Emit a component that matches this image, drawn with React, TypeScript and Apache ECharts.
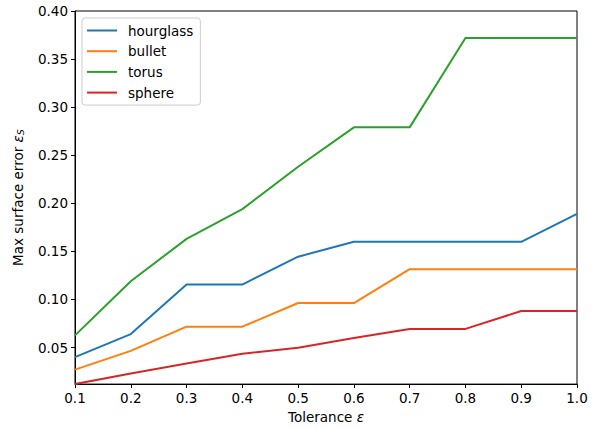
import React, { useEffect, useRef } from "react";
import * as echarts from "echarts";

const tolerance = [0.1, 0.2, 0.3, 0.4, 0.5, 0.6, 0.7, 0.8, 0.9, 1.0];
const hourglass = [0.040, 0.064, 0.1155, 0.1155, 0.1445, 0.160, 0.160, 0.160, 0.160, 0.189];
const bullet = [0.027, 0.0466, 0.0717, 0.0717, 0.0963, 0.0963, 0.1315, 0.1315, 0.1315, 0.1315];
const torus = [0.0627, 0.119, 0.163, 0.194, 0.238, 0.279, 0.279, 0.372, 0.372, 0.372];
const sphere = [0.012, 0.0231, 0.0334, 0.0435, 0.0497, 0.060, 0.0694, 0.0694, 0.088, 0.088];
const seriesNames = ["hourglass", "bullet", "torus", "sphere"];
const colors = ["#1f77b4", "#ff7f0e", "#2ca02c", "#d62728"];
const xTicks = [0.1, 0.2, 0.3, 0.4, 0.5, 0.6, 0.7, 0.8, 0.9, 1.0];
const yTicks = [0.05, 0.10, 0.15, 0.20, 0.25, 0.30, 0.35, 0.40];

const FONT = "DejaVu Sans";
const FS = 13.5;

export default function App() {
  const ref = useRef<HTMLDivElement>(null);
  useEffect(() => {
    document.body.style.margin = "0";
    if (!ref.current) return;
    const chart = echarts.init(ref.current, undefined, { renderer: "svg" });
    const allData = [hourglass, bullet, torus, sphere];
    const axisLine = { show: true, lineStyle: { color: "#000", width: 1 } };
    chart.setOption({
      animation: false,
      backgroundColor: "#fff",
      textStyle: { fontFamily: FONT },
      grid: { left: 75, right: 18, top: 11, bottom: 43, containLabel: false, show: true, borderColor: "#000", borderWidth: 1 },
      legend: {
        orient: "vertical",
        left: 82,
        top: 18,
        data: seriesNames.map((n) => ({ name: n, icon: "rect" })),
        itemWidth: 30,
        itemHeight: 2,
        itemGap: 5.7,
        padding: [5, 7, 5, 5],
        backgroundColor: "rgba(255,255,255,0.8)",
        borderColor: "#cccccc",
        borderWidth: 1,
        borderRadius: 3,
        textStyle: { fontFamily: FONT, fontSize: FS, color: "#000", lineHeight: 15, padding: [0, 0, 0, 6] },
      },
      xAxis: {
        type: "value",
        min: 0.1,
        max: 1.0,
        name: "Tolerance {e|ε}",
        nameLocation: "middle",
        nameGap: 24,
        nameTextStyle: {
          fontFamily: FONT, fontSize: FS, color: "#000",
          rich: { e: { fontFamily: FONT, fontSize: FS, fontStyle: "italic", color: "#000" } },
        },
        axisLine,
        axisTick: { show: true, length: 4, inside: false, customValues: xTicks, lineStyle: { color: "#000" } },
        axisLabel: {
          customValues: xTicks,
          formatter: (v: number) => v.toFixed(1),
          fontFamily: FONT, fontSize: FS, color: "#000", margin: 7,
        },
        splitLine: { show: false },
      },
      yAxis: {
        type: "value",
        min: 0.012,
        max: 0.4,
        name: "Max surface error {e|ε}{s|S}",
        nameLocation: "middle",
        nameGap: 50,
        nameTextStyle: {
          fontFamily: FONT, fontSize: FS, color: "#000",
          rich: {
            e: { fontFamily: FONT, fontSize: FS, fontStyle: "italic", color: "#000" },
            s: { fontFamily: FONT, fontSize: 9.5, fontStyle: "italic", color: "#000", padding: [5, 0, 0, 0] },
          },
        },
        axisLine,
        axisTick: { show: true, length: 4, inside: false, customValues: yTicks, lineStyle: { color: "#000" } },
        axisLabel: {
          customValues: yTicks,
          formatter: (v: number) => v.toFixed(2),
          fontFamily: FONT, fontSize: FS, color: "#000", margin: 7,
        },
        splitLine: { show: false },
      },
      series: seriesNames.map((n, i) => ({
        name: n,
        type: "line",
        data: tolerance.map((x, j) => [x, allData[i][j]]),
        showSymbol: false,
        symbol: "none",
        color: colors[i],
        lineStyle: { color: colors[i], width: 2 },
        itemStyle: { color: colors[i] },
      })),
    });
    return () => chart.dispose();
  }, []);
  return <div ref={ref} style={{ width: 595, height: 429 }} />;
}
